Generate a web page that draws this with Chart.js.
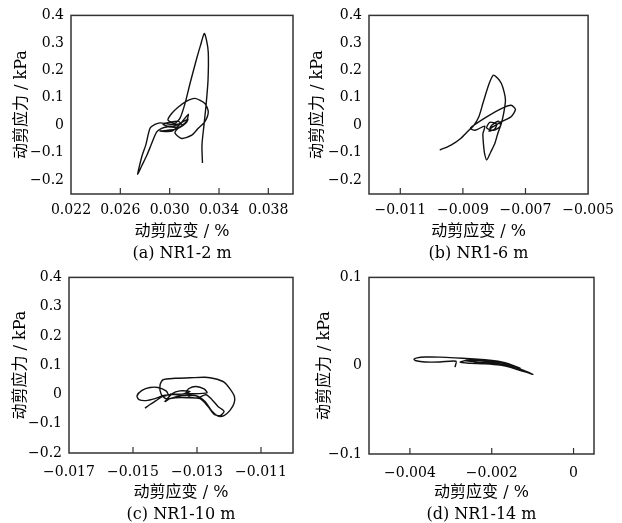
<!DOCTYPE html>
<html>
<head>
<meta charset="utf-8">
<script src="https://cdn.jsdelivr.net/npm/chart.js@4/dist/chart.umd.min.js"></script>
<style>
  html, body { margin: 0; padding: 0; background: #fff; }
  #wrap { position: relative; width: 622px; height: 523px; overflow: hidden; background: #fff; }
  .panel { position: absolute; }
</style>
</head>
<body>
<div id="wrap">
  <div class="panel" style="left:0;top:0"><canvas id="chart-a" width="311" height="262"></canvas></div>
  <div class="panel" style="left:300px;top:0"><canvas id="chart-b" width="322" height="262"></canvas></div>
  <div class="panel" style="left:0;top:262px"><canvas id="chart-c" width="311" height="261"></canvas></div>
  <div class="panel" style="left:300px;top:262px"><canvas id="chart-d" width="322" height="261"></canvas></div>
</div>
<script>
const X_TITLE = '动剪应变 / %';
const Y_TITLE = '动剪应力 / kPa';

// (a) NR1-2 m
const strainA = [0.03068, 0.03003, 0.02922, 0.02881, 0.02841, 0.02806, 0.02778, 0.02755, 0.02741, 0.02773,
  0.02816, 0.02849, 0.02895, 0.02935, 0.02976, 0.03035, 0.03084, 0.03132, 0.03149, 0.03116,
  0.03051, 0.02986, 0.02946, 0.03003, 0.03068, 0.03100, 0.03051, 0.02986, 0.02922, 0.03019,
  0.03084, 0.03151, 0.03132, 0.03068, 0.03043, 0.03098, 0.03179, 0.03232, 0.03286, 0.03313,
  0.03286, 0.03205, 0.03138, 0.03068, 0.03016, 0.02986, 0.03043, 0.03084, 0.03124, 0.03165,
  0.03219, 0.03250, 0.03281, 0.03299, 0.03313, 0.03311, 0.03295, 0.03278, 0.03262, 0.03266];
const stressA = [0.004, 0.004, 0.009, 0.003, -0.011, -0.072, -0.108, -0.148, -0.178, -0.148,
  -0.108, -0.072, -0.024, -0.011, -0.006, -0.007, -0.007, 0.008, 0.022, 0.015,
  0.000, -0.003, 0.004, 0.011, 0.015, 0.000, -0.014, -0.018, -0.021, -0.021,
  0.004, 0.040, 0.011, -0.011, -0.028, -0.048, -0.036, -0.011, 0.013, 0.049,
  0.079, 0.098, 0.088, 0.066, 0.043, 0.019, 0.008, 0.026, 0.079, 0.152,
  0.243, 0.291, 0.334, 0.309, 0.266, 0.164, 0.073, 0.000, -0.072, -0.137];

// (b) NR1-6 m
const strainB = [-0.00974, -0.00938, -0.00907, -0.00881, -0.00865, -0.00849, -0.00836, -0.00818, -0.00803, -0.00789,
  -0.00777, -0.00768, -0.00764, -0.00769, -0.00777, -0.00788, -0.00798, -0.00811, -0.00824, -0.00831,
  -0.00834, -0.00836, -0.00830, -0.00861, -0.00876, -0.00855, -0.00824, -0.00777, -0.00746, -0.00732,
  -0.00746, -0.00777, -0.00813, -0.00808, -0.00786, -0.00780, -0.00802, -0.00824, -0.00814, -0.00792,
  -0.00799, -0.00817, -0.00805];
const stressB = [-0.090, -0.072, -0.048, -0.018, 0.000, 0.031, 0.080, 0.146, 0.182, 0.171,
  0.152, 0.120, 0.091, 0.048, 0.007, -0.028, -0.066, -0.097, -0.126, -0.101,
  -0.072, -0.030, -0.003, -0.018, -0.011, 0.008, 0.031, 0.061, 0.073, 0.058,
  0.031, 0.013, -0.011, 0.000, 0.015, -0.003, -0.018, -0.010, 0.011, 0.004,
  -0.014, -0.021, -0.004];

// (c) NR1-10 m
const strainC = [-0.014625, -0.014469, -0.014281, -0.014094, -0.013906, -0.013969, -0.014219, -0.014469, -0.014719, -0.014875,
  -0.014813, -0.014594, -0.014313, -0.014063, -0.013688, -0.013219, -0.012688, -0.012781, -0.013031, -0.013250,
  -0.013344, -0.013219, -0.012969, -0.012719, -0.012531, -0.012344, -0.012156, -0.012281, -0.012469, -0.012656,
  -0.012906, -0.013281, -0.013688, -0.013969, -0.014125, -0.014156, -0.014063, -0.013688, -0.013219, -0.012750,
  -0.012438, -0.012156, -0.011969, -0.011828, -0.011844, -0.011969, -0.012156, -0.012344, -0.012531, -0.012750,
  -0.013031, -0.013469, -0.013844, -0.014000, -0.013781, -0.013531, -0.013219, -0.013531, -0.013844];
const stressC = [-0.0465, -0.0343, -0.0210, -0.0077, -0.0011, 0.0121, 0.0237, 0.0237, 0.0138, -0.0044,
  -0.0177, -0.0210, -0.0144, -0.0044, 0.0005, 0.0022, 0.0055, 0.0188, 0.0271, 0.0204,
  0.0055, -0.0094, -0.0111, -0.0011, -0.0177, -0.0409, -0.0575, -0.0724, -0.0674, -0.0409,
  -0.0144, -0.0111, -0.0111, -0.0144, 0.0022, 0.0320, 0.0503, 0.0552, 0.0569, 0.0586,
  0.0536, 0.0420, 0.0188, -0.0077, -0.0310, -0.0542, -0.0724, -0.0740, -0.0575, -0.0243,
  -0.0044, -0.0044, -0.0144, -0.0243, 0.0022, 0.0121, 0.0105, -0.0011, 0.0022];

// (d) NR1-14 m
const strainD = [-0.002898, -0.002874, -0.003265, -0.003631, -0.003851, -0.003900, -0.003827, -0.003631, -0.003265, -0.002898,
  -0.002532, -0.002165, -0.001798, -0.001432, -0.000992, -0.001432, -0.001798, -0.002165, -0.002532, -0.002776,
  -0.002532, -0.002043, -0.001676, -0.001309, -0.001554, -0.001920, -0.002409, -0.002654, -0.002287, -0.001847,
  -0.001554, -0.001798, -0.002165, -0.002409, -0.002043, -0.001676];
const stressD = [-0.0017, 0.0050, 0.0042, 0.0042, 0.0056, 0.0073, 0.0089, 0.0098, 0.0097, 0.0089,
  0.0078, 0.0067, 0.0039, -0.0017, -0.0098, -0.0034, 0.0006, 0.0022, 0.0028, 0.0039,
  0.0067, 0.0061, 0.0034, -0.0028, -0.0006, 0.0028, 0.0045, 0.0056, 0.0061, 0.0039,
  0.0011, 0.0017, 0.0039, 0.0034, 0.0022, 0.0000];

// axis ticks and ranges
const xTicksA = [0.022, 0.026, 0.030, 0.034, 0.038];
const xTicksB = [-0.011, -0.009, -0.007, -0.005];
const xTicksC = [-0.017, -0.015, -0.013, -0.011];
const xTicksD = [-0.004, -0.002, 0];
const yTicksTop = [-0.2, -0.1, 0, 0.1, 0.2, 0.3, 0.4];
const yTicksD = [-0.1, 0, 0.1];

const FONT = "'DejaVu Serif', 'Noto Sans CJK SC', serif";
const INK = '#000';

const fmt = digits => v => Math.abs(v) < 1e-9 ? '0' : (v < 0 ? '\u2212' : '') + Math.abs(v).toFixed(digits);

// box around plot + short inward ticks on the strain axis
const framePlugin = {
  id: 'frame',
  afterDraw(chart) {
    const { ctx, chartArea: a, scales: { x } } = chart;
    ctx.save();
    ctx.strokeStyle = '#333';
    ctx.lineWidth = 1.5;
    ctx.strokeRect(a.left, a.top, a.right - a.left, a.bottom - a.top);
    ctx.lineWidth = 1.2;
    x.ticks.forEach(t => {
      const px = x.getPixelForValue(t.value);
      if (px <= a.left + 1 || px >= a.right - 1) return;
      ctx.beginPath();
      ctx.moveTo(px, a.bottom);
      ctx.lineTo(px, a.bottom - 6);
      ctx.stroke();
    });
    ctx.restore();
  }
};

function makePanel(id, p) {
  new Chart(document.getElementById(id), {
    type: 'scatter',
    data: {
      datasets: [{
        data: p.strain.map((v, i) => ({ x: v, y: p.stress[i] })),
        showLine: true,
        borderColor: '#111',
        borderWidth: 1.4,
        pointRadius: 0,
        tension: 0.25,
        fill: false,
      }]
    },
    options: {
      responsive: false, animation: false, events: [],
      layout: { padding: { left: 0, top: p.top, right: p.right, bottom: 0 } },
      plugins: { legend: { display: false }, tooltip: { enabled: false } },
      scales: {
        x: {
          type: 'linear', min: p.xMin, max: p.xMax,
          afterBuildTicks: s => { s.ticks = p.xTicks.map(v => ({ value: v })); },
          afterFit: s => { s.height = p.xH; },
          grid: { display: false, drawTicks: false }, border: { display: false },
          ticks: { callback: fmt(3), color: INK, font: { family: FONT, size: 14 }, padding: p.xPad, maxRotation: 0, autoSkip: false },
          title: { display: true, text: [X_TITLE, p.caption], color: INK,
                   font: { family: FONT, size: 16, lineHeight: 1.375 }, padding: { top: 0, bottom: -3 } }
        },
        y: {
          type: 'linear', min: p.yMin, max: p.yMax,
          afterBuildTicks: s => { s.ticks = p.yTicks.map(v => ({ value: v })); },
          afterFit: s => { s.width = p.yW; },
          grid: { display: false, drawTicks: false }, border: { display: false },
          ticks: { callback: fmt(1), color: INK, font: { family: FONT, size: 14 }, padding: 7, autoSkip: false },
          title: { display: true, text: Y_TITLE, color: INK,
                   font: { family: FONT, size: 16, lineHeight: 1.2 }, padding: { top: p.yTitlePad, bottom: 0 } }
        }
      }
    },
    plugins: [framePlugin]
  });
}

makePanel('chart-a', { strain: strainA, stress: stressA, caption: '(a) NR1-2 m',
  xMin: 0.022, xMax: 0.040, xTicks: xTicksA, yMin: -0.25, yMax: 0.4, yTicks: yTicksTop,
  top: 15, right: 18, xH: 68, yW: 71, yTitlePad: 12, xPad: 8 });
makePanel('chart-b', { strain: strainB, stress: stressB, caption: '(b) NR1-6 m',
  xMin: -0.012, xMax: -0.005, xTicks: xTicksB, yMin: -0.25, yMax: 0.4, yTicks: yTicksTop,
  top: 15, right: 28, xH: 68, yW: 69, yTitlePad: 8, xPad: 8 });
makePanel('chart-c', { strain: strainC, stress: stressC, caption: '(c) NR1-10 m',
  xMin: -0.017, xMax: -0.010, xTicks: xTicksC, yMin: -0.2, yMax: 0.4, yTicks: yTicksTop,
  top: 10, right: 18, xH: 70, yW: 69, yTitlePad: 11, xPad: 11 });
makePanel('chart-d', { strain: strainD, stress: stressD, caption: '(d) NR1-14 m',
  xMin: -0.005, xMax: 0.0005, xTicks: xTicksD, yMin: -0.1, yMax: 0.1, yTicks: yTicksD,
  top: 13, right: 28, xH: 69, yW: 69, yTitlePad: 15, xPad: 11 });
</script>
</body>
</html>
